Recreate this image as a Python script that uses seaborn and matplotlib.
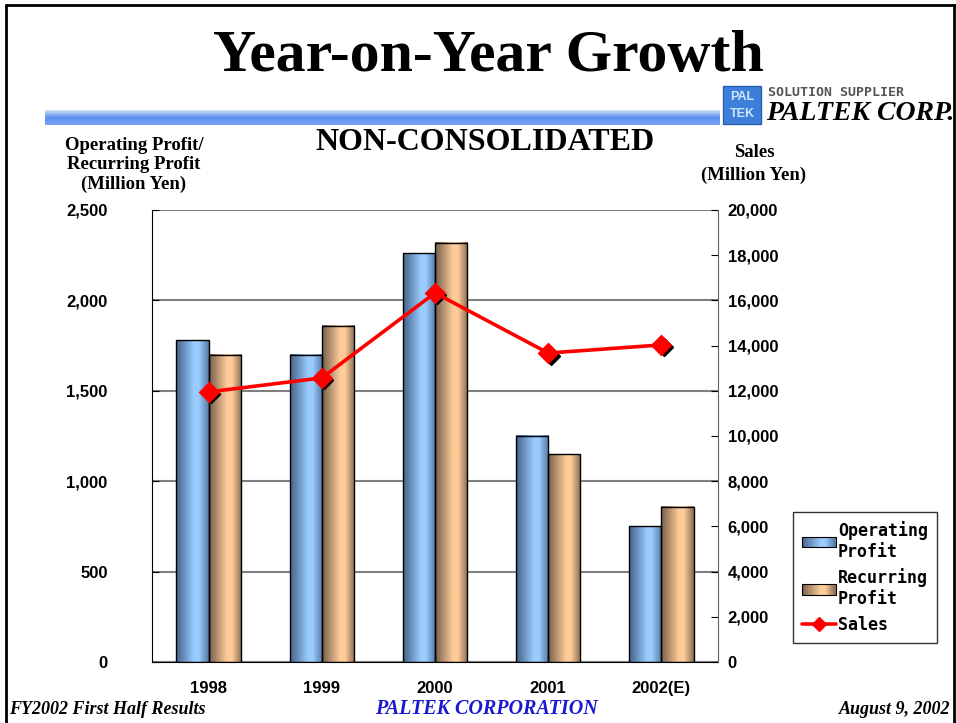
import numpy as np
import pandas as pd
import seaborn as sns
import matplotlib.pyplot as plt
from matplotlib.colors import LinearSegmentedColormap
from matplotlib.patches import Rectangle, Patch
from matplotlib.lines import Line2D
from matplotlib.legend_handler import HandlerPatch
from matplotlib.ticker import FuncFormatter, FixedLocator
from matplotlib.transforms import offset_copy

years = ['1998', '1999', '2000', '2001', '2002(E)']
operating_profit = [1780, 1700, 2260, 1250, 750]
recurring_profit = [1700, 1860, 2320, 1150, 860]
sales = [11950, 12570, 16330, 13670, 14030]
series_names = ['Operating\nProfit', 'Recurring\nProfit']

sns.set_style('white')
plt.rcParams['font.family'] = ['Liberation Sans', 'DejaVu Sans']
plt.rcParams['font.weight'] = 'bold'
for key in ['text.color', 'axes.labelcolor', 'xtick.color', 'ytick.color']:
    plt.rcParams[key] = 'black'

df = pd.DataFrame({
    'year': years * 2,
    'value': operating_profit + recurring_profit,
    'series': [series_names[0]] * len(years) + [series_names[1]] * len(years),
})

W, H = 956, 723
fig = plt.figure(figsize=(W / 100, H / 100), dpi=100)
ax = fig.add_axes([152 / W, 61 / H, 566 / W, 452 / H])

op_cmap = LinearSegmentedColormap.from_list(
    'op', [(0, '#45628a'), (0.55, '#99ccff'), (0.7, '#99ccff'), (1, '#587aa2')])
rec_cmap = LinearSegmentedColormap.from_list(
    'rec', [(0, '#76604c'), (0.55, '#ffcc99'), (0.7, '#ffcc99'), (1, '#8a6e55')])

sns.barplot(data=df, x='year', y='value', hue='series', palette=['#99ccff', '#ffcc99'],
            width=0.57, saturation=1, edgecolor='black', linewidth=1.0,
            legend=False, ax=ax, zorder=2)

# cylinder-like shading on each bar
grad = np.linspace(0, 1, 64).reshape(1, -1)
for container, cmap in zip(ax.containers, [op_cmap, rec_cmap]):
    for bar in container:
        x, y = bar.get_x(), bar.get_y()
        w, h = bar.get_width(), bar.get_height()
        ax.imshow(grad, extent=[x, x + w, y, y + h], aspect='auto', cmap=cmap,
                  zorder=1.9, interpolation='bicubic')
        bar.set_facecolor('none')

ax.set_xlim(-0.5, len(years) - 0.5)
ax.set_ylim(0, 2500)
ax.set_yticks(range(0, 2501, 500))
ax.yaxis.set_major_formatter(FuncFormatter(lambda v, _: f'{v:,.0f}'))
ax.grid(axis='y', color='#808080', linewidth=1.5, zorder=0)
ax.set_axisbelow(True)
ax.set_xlabel('')
ax.set_ylabel('')
ax.tick_params(axis='y', direction='in', length=5, labelsize=12, pad=32)
ax.tick_params(axis='x', length=0, labelsize=12, pad=14)
ax.xaxis.set_minor_locator(FixedLocator(np.arange(0.5, len(years) - 1, 1.0)))
ax.tick_params(axis='x', which='minor', direction='in', length=5, color='black')
for lbl in ax.get_xticklabels() + ax.get_yticklabels():
    lbl.set_fontweight('bold')
ax.spines['top'].set_visible(False)
ax.spines['right'].set_visible(False)
ax.spines['left'].set_color('black')
ax.spines['bottom'].set_color('black')

ax2 = ax.twinx()
sns.pointplot(x=years, y=sales, ax=ax2, color='#ff0000', markers='D', markersize=9,
              linewidth=2.6, errorbar=None)
ax2.plot(range(len(years)), sales, ls='none', marker='D', ms=9, color='black',
         transform=offset_copy(ax2.transData, fig=fig, x=2.5, y=-2.5, units='dots'),
         zorder=1)
for ln in ax2.lines[:-1]:
    ln.set_zorder(3)
ax2.set_xlim(-0.5, len(years) - 0.5)
ax2.set_ylim(0, 20000)
ax2.set_yticks(range(0, 20001, 2000))
ax2.yaxis.set_major_formatter(FuncFormatter(lambda v, _: f'{v:,.0f}'))
ax2.tick_params(axis='y', direction='in', length=5, labelsize=12, pad=7)
for lbl in ax2.get_yticklabels():
    lbl.set_fontweight('bold')
ax2.set_ylabel('')
for side in ['top', 'left', 'bottom']:
    ax2.spines[side].set_visible(False)
ax2.spines['right'].set_color('#606060')
ax2.grid(False)


class GradientPatchHandler(HandlerPatch):
    def __init__(self, cmap, **kw):
        super().__init__(**kw)
        self.cmap = cmap

    def create_artists(self, legend, orig_handle, xdescent, ydescent, width, height,
                       fontsize, trans):
        n = 16
        arts = []
        for i in range(n):
            r = Rectangle((-xdescent + width * i / n, -ydescent), width / n + 0.3, height,
                          facecolor=self.cmap((i + 0.5) / n), edgecolor='none',
                          transform=trans)
            arts.append(r)
        arts.append(Rectangle((-xdescent, -ydescent), width, height, facecolor='none',
                              edgecolor='black', lw=0.8, transform=trans))
        return arts


# legend
op_handle = Patch(facecolor='#7aa6d6')
rec_handle = Patch(facecolor='#d8ad85')
sales_handle = Line2D([], [], color='#ff0000', lw=2.6, marker='D', ms=7)
leg = fig.legend([op_handle, rec_handle, sales_handle], series_names + ['Sales'],
                 loc='upper left', bbox_to_anchor=(793 / W, 1 - 512 / H), frameon=True,
                 fancybox=False, edgecolor='black', handlelength=2.0, handleheight=0.6,
                 handletextpad=0.15, borderpad=0.55, labelspacing=0.45, borderaxespad=0,
                 handler_map={op_handle: GradientPatchHandler(op_cmap),
                              rec_handle: GradientPatchHandler(rec_cmap)},
                 prop={'family': 'DejaVu Sans Mono', 'weight': 'bold', 'size': 12})
leg.get_frame().set_linewidth(1.0)
leg._legend_box.align = 'left'

# titles and labels
serif = ['Liberation Serif', 'DejaVu Serif']
fig.text(488 / W, 1 - 57 / H, 'Year-on-Year Growth', ha='center', va='center',
         family=serif, weight='bold', fontsize=43)
fig.text(485 / W, 1 - 143 / H, 'NON-CONSOLIDATED', ha='center', va='center',
         family=serif, weight='bold', fontsize=23)
fig.text(134 / W, 1 - 165 / H, 'Operating Profit/\nRecurring Profit\n(Million Yen)',
         ha='center', va='center', family=serif, weight='bold', fontsize=13.5,
         linespacing=1.2)
fig.text(754 / W, 1 - 164 / H, 'Sales\n(Million Yen)', ha='center', va='center',
         family=serif, weight='bold', fontsize=13.5, linespacing=1.45)

fig.text(9 / W, 1 - 710 / H, 'FY2002 First Half Results', ha='left', va='center',
         family=serif, weight='bold', style='italic', fontsize=13)
fig.text(486 / W, 1 - 709 / H, 'PALTEK CORPORATION', ha='center', va='center',
         family=serif, weight='bold', style='italic', fontsize=14.5, color='#1a1acc')
fig.text(950 / W, 1 - 710 / H, 'August 9, 2002', ha='right', va='center',
         family=serif, weight='bold', style='italic', fontsize=13)

# blue band under title
band = fig.add_axes([45 / W, 1 - 125 / H, 675 / W, 15 / H])
band.imshow(np.linspace(0, 1, 32).reshape(-1, 1),
            cmap=LinearSegmentedColormap.from_list('band', ['#d0e0fa', '#5b8ff0', '#7aa4f4']),
            aspect='auto', extent=[0, 1, 0, 1])
band.axis('off')

# logo
fig.patches.append(Rectangle((723 / W, 1 - 124 / H), 38 / W, 38 / H,
                             transform=fig.transFigure, facecolor='#3d7fd8',
                             edgecolor='#2a5fb0', lw=1))
fig.text(742 / W, 1 - 97 / H, 'PAL', ha='center', va='center', color='#cfe6ff',
         fontsize=9, weight='bold')
fig.text(742 / W, 1 - 114 / H, 'TEK', ha='center', va='center', color='#cfe6ff',
         fontsize=9, weight='bold')
fig.text(768 / W, 1 - 93 / H, 'SOLUTION SUPPLIER', ha='left', va='center',
         color='#555555', fontsize=9.5, family='DejaVu Sans Mono')
fig.text(766 / W, 1 - 113 / H, 'PALTEK CORP.', ha='left', va='center',
         family=serif, weight='bold', style='italic', fontsize=20)

# slide frame
for xs, ys in [([6 / W, 6 / W], [0, 1 - 5 / H]),
               ([6 / W, 1], [1 - 5 / H, 1 - 5 / H]),
               ([954 / W, 954 / W], [0, 1 - 5 / H])]:
    fig.add_artist(Line2D(xs, ys, color='black', lw=2, transform=fig.transFigure))

fig.savefig('out.png', dpi=100)
